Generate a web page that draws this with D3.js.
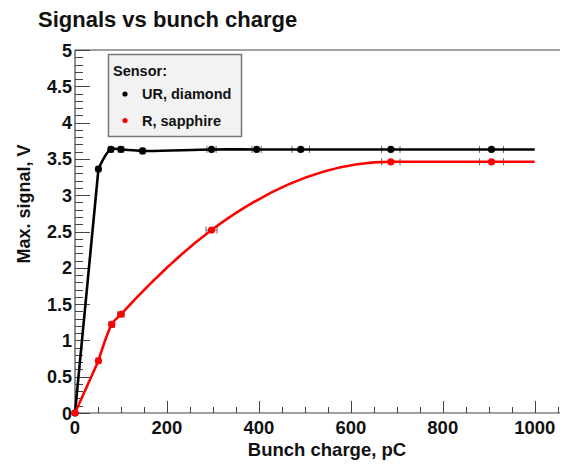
<!DOCTYPE html>
<html><head><meta charset="utf-8">
<script src="https://cdn.jsdelivr.net/npm/d3@7"></script>
<style>body{margin:0;background:#fff}svg{display:block}text{font-family:"Liberation Sans",Arial,sans-serif;font-weight:bold;fill:#111}</style>
</head><body><svg id="c" width="571" height="465"></svg>
<script>
const title = "Signals vs bunch charge";
const xTitle = "Bunch charge, pC";
const yTitle = "Max. signal, V";
const legendTitle = "Sensor:";
const seriesNames = ["UR, diamond", "R,  sapphire"];
const seriesColors = ["#000000", "#ff0000"];
// UR, diamond
const diamondX =    [0, 51, 78, 100, 147, 297, 395, 491, 687, 906];
const diamondY =    [0, 3.36, 3.63, 3.63, 3.61, 3.63, 3.63, 3.63, 3.63, 3.63];
const diamondXErr = [0, 5, 5, 6, 5, 10, 10, 19, 20, 26];
// R, sapphire
const sapphireX =    [0, 51, 80, 100, 297, 687, 906];
const sapphireY =    [0, 0.72, 1.22, 1.36, 2.52, 3.46, 3.46];
const sapphireXErr = [0, 5, 6, 7, 12, 20, 26];
const lineEndX = 1000;
const xTicks = [0, 200, 400, 600, 800, 1000];
const yTicks = [0, 0.5, 1, 1.5, 2, 2.5, 3, 3.5, 4, 4.5, 5];

const svg = d3.select("#c");
const x = d3.scaleLinear().domain([0, 1055]).range([75, 560]);
const y = d3.scaleLinear().domain([0, 5]).range([413, 50]);
const axisCol = "#444";

// frame lines (top, left, bottom)
svg.append("line").attr("x1", x(0)).attr("x2", x.range()[1]).attr("y1", y(5)).attr("y2", y(5)).attr("stroke", axisCol).attr("stroke-width", 1.2);
svg.append("line").attr("x1", x(0)).attr("x2", x(0)).attr("y1", y(0)).attr("y2", y(5)).attr("stroke", axisCol).attr("stroke-width", 1.2);
svg.append("line").attr("x1", x(0)).attr("x2", x.range()[1]).attr("y1", y(0)).attr("y2", y(0)).attr("stroke", axisCol).attr("stroke-width", 1.2);

// y ticks (inside)
const yMinor = d3.range(0, 51).map(d => d / 10);
svg.append("g").selectAll("line").data(yMinor).join("line")
  .attr("x1", x(0)).attr("x2", d => x(0) + (Math.abs(d * 2 - Math.round(d * 2)) < 1e-6 ? 15 : 8))
  .attr("y1", d => Math.round(y(d)) + 0.5).attr("y2", d => Math.round(y(d)) + 0.5)
  .attr("stroke", axisCol).attr("stroke-width", 1);
// x ticks (inside, upward)
const xMinor = d3.range(0, 1051, 50);
svg.append("g").selectAll("line").data(xMinor).join("line")
  .attr("x1", d => Math.round(x(d)) + 0.5).attr("x2", d => Math.round(x(d)) + 0.5)
  .attr("y1", y(0)).attr("y2", d => y(0) - (d % 200 === 0 ? 12 : 6))
  .attr("stroke", axisCol).attr("stroke-width", 1);

// tick labels
svg.append("g").selectAll("text").data(yTicks).join("text")
  .attr("x", 72).attr("y", d => y(d) + 6.5).attr("text-anchor", "end")
  .attr("font-size", 18).text(d => d3.format("~g")(d));
svg.append("g").selectAll("text").data(xTicks).join("text")
  .attr("x", d => x(d)).attr("y", 434).attr("text-anchor", "middle")
  .attr("font-size", 18.5).text(d => d);

// titles
svg.append("text").attr("x", 38).attr("y", 27).attr("font-size", 22).text(title);
svg.append("text").attr("x", 327).attr("y", 456).attr("text-anchor", "middle").attr("font-size", 18.5).text(xTitle);
svg.append("text").attr("transform", "translate(30,204) rotate(-90)").attr("text-anchor", "middle").attr("font-size", 18).text(yTitle);

// series
const series = [
  {xs: diamondX, ys: diamondY, ex: diamondXErr, color: seriesColors[0], curve: d3.curveCatmullRom.alpha(0.5)},
  {xs: sapphireX, ys: sapphireY, ex: sapphireXErr, color: seriesColors[1], curve: d3.curveMonotoneX}
];
series.forEach(s => {
  const pts = s.xs.map((v, i) => [v, s.ys[i], s.ex[i]]);
  const linePts = pts.concat([[lineEndX, s.ys[s.ys.length - 1]]]);
  const straight = d3.line().x(d => x(d[0])).y(d => y(d[1]))(linePts.slice(0, 2));
  const smooth = d3.line().x(d => x(d[0])).y(d => y(d[1])).curve(s.curve)(linePts.slice(1));
  const g = svg.append("g");
  // error bars
  pts.filter(p => p[2] > 0).forEach(p => {
    const cy = y(p[1]);
    g.append("line").attr("x1", x(p[0] - p[2])).attr("x2", x(p[0] + p[2])).attr("y1", cy).attr("y2", cy).attr("stroke", "#666").attr("stroke-width", 1);
    [p[0] - p[2], p[0] + p[2]].forEach(xe => {
      g.append("line").attr("x1", x(xe)).attr("x2", x(xe)).attr("y1", cy - 3.5).attr("y2", cy + 3.5).attr("stroke", "#666").attr("stroke-width", 1);
    });
  });
  g.append("path").attr("d", straight + smooth.replace(/^M/, "L"))
    .attr("fill", "none").attr("stroke", s.color).attr("stroke-width", 2.6).attr("stroke-linejoin", "round");
  g.selectAll("circle").data(pts).join("circle")
    .attr("cx", d => x(d[0])).attr("cy", d => y(d[1])).attr("r", 3.6).attr("fill", s.color);
});

// legend
const lg = svg.append("g");
lg.append("rect").attr("x", 108.5).attr("y", 54.5).attr("width", 133).attr("height", 82)
  .attr("fill", "#f2f2f2").attr("stroke", "#777").attr("stroke-width", 1.5);
lg.append("text").attr("x", 113).attr("y", 76).attr("font-size", 14.5).text(legendTitle);
seriesNames.forEach((n, i) => {
  const cy = 94 + i * 26.5;
  lg.append("circle").attr("cx", 125).attr("cy", cy).attr("r", 2.6).attr("fill", seriesColors[i]);
  lg.append("text").attr("x", 142).attr("y", cy + 5).attr("font-size", 14.5).text(n);
});
</script></body></html>
